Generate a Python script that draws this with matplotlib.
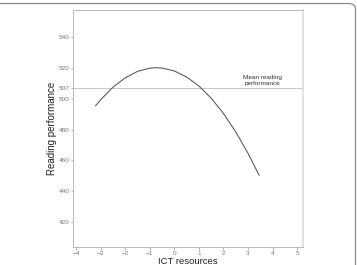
import matplotlib
matplotlib.use("Agg")
import matplotlib.pyplot as plt
from matplotlib.patches import FancyBboxPatch

plt.rcParams['font.family'] = ['Liberation Sans', 'DejaVu Sans']

# curve (ICT resources vs predicted reading score)
ict = [-3.2, -3.0, -2.5, -2.0, -1.5, -1.0, -0.75, -0.5, 0.0, 0.5, 1.0, 1.5, 2.0, 2.5, 3.0, 3.45]
reading = [495.4, 499.2, 507.3, 513.4, 517.6, 519.7, 520.0, 519.8, 517.9, 514.0, 508.2, 500.3,
           490.4, 478.5, 464.6, 450.4]
mean_reading = 507

x_ticks = [-4, -3, -2, -1, 0, 1, 2, 3, 4, 5]
y_ticks = [420, 440, 460, 480, 500, 507, 520, 540]

fig = plt.figure(figsize=(3.57, 2.65), dpi=100)
ax = fig.add_axes([0.2045, 0.068, 0.6445, 0.894])

ax.axhline(mean_reading, color='#c8c8c8', lw=0.7, zorder=1)
ax.plot(ict, reading, color='#555555', lw=0.75, zorder=2)
ax.text(3.6, mean_reading + 1.0, 'Mean reading\nperformance', ha='center', va='bottom',
        fontsize=4.6, color='#333333', linespacing=1.3)

ax.set_xlim(-4.12, 5.24)
ax.set_ylim(404, 557.3)
ax.set_xticks(x_ticks)
ax.set_yticks(y_ticks)
ax.tick_params(labelsize=4.6, colors='#999999', labelcolor='#777777', length=1.8, width=0.5, pad=0.8)

for side in ['left', 'bottom', 'top']:
    ax.spines[side].set_color('#bbbbbb')
    ax.spines[side].set_linewidth(0.7)
ax.spines['right'].set_color('#dddddd')
ax.spines['right'].set_linewidth(1.2)

ax.set_ylabel('Reading performance', fontsize=7, color='#222222', va='center')
ax.yaxis.set_label_coords(-0.09, 0.5)
# x label sits right against the bottom edge, as in the original
fig.text(0.5265, 1.2 / 265, 'ICT resources', ha='center', va='baseline',
         fontsize=6.8, color='#222222')

# outer frame of the original figure panel (only top and right edges visible)
frame = FancyBboxPatch((-0.05, -0.05), 0.05 + 355.5 / 357, 0.05 + 1 - 3.5 / 265,
                       boxstyle='round,pad=0,rounding_size=0.02', transform=fig.transFigure,
                       facecolor='none', edgecolor='#8a8a8a', lw=0.9, clip_on=False)
fig.patches.append(frame)

fig.savefig('out.png', dpi=100)
